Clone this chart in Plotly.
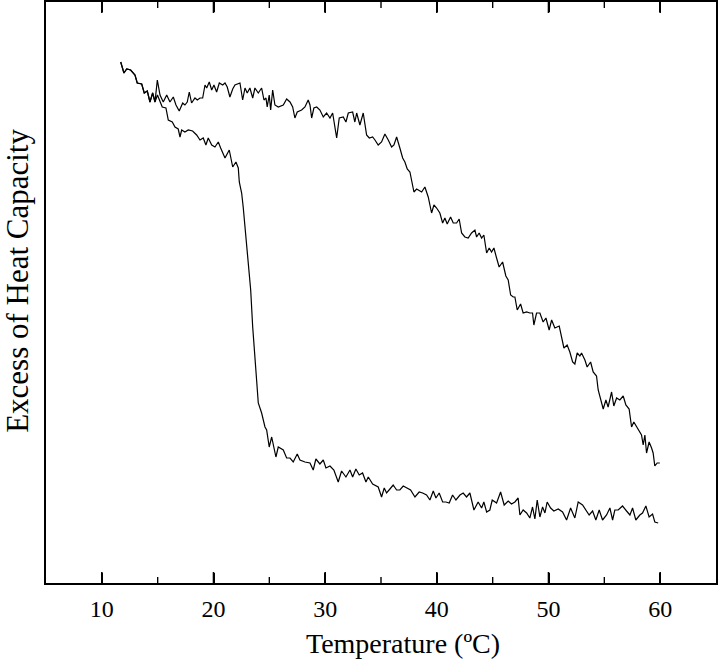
import plotly.graph_objects as go

# Shared start of both scans (°C, arbitrary heat-capacity units)
start_T = [11.69, 11.98, 12.23, 12.58, 12.97, 13.17, 13.57, 13.80, 14.07, 14.31, 14.55, 14.76]
start_cp = [521, 510, 514, 513, 508, 500, 499, 490, 492, 481, 490, 481]

# Curve with the sharp transition near 23 °C
sharp_T = [14.98, 15.41, 15.74, 15.95, 16.31, 16.55, 16.84, 17.00, 17.15, 17.44, 17.74, 18.13,
           18.49, 18.79, 19.08, 19.32, 19.53, 19.84, 20.13, 20.43, 20.64, 21.03, 21.41, 21.72,
           22.01, 22.22, 22.31, 22.52, 22.66, 22.82, 22.97, 23.11, 23.33, 23.51, 23.71, 23.86,
           24.01, 24.31, 24.61, 24.76, 24.99, 25.21, 25.59, 25.80, 26.25, 26.55, 26.85, 27.14,
           27.50, 27.74, 28.19, 28.64, 28.93, 29.17, 29.53, 29.83, 30.07, 30.43, 30.78, 31.17,
           31.47, 31.86, 32.22, 32.46, 32.75, 33.05, 33.35, 33.65, 33.86, 34.25, 34.75, 35.05,
           35.29, 35.50, 35.80, 36.09, 36.40, 36.69, 36.99, 37.29, 37.65, 38.04, 38.42, 38.73,
           39.08, 39.38, 39.68, 39.92, 40.21, 40.52, 40.81, 41.11, 41.41, 41.71, 42.07, 42.36,
           42.66, 42.96, 43.32, 43.70, 44.01, 44.21, 44.46, 44.75, 44.96, 45.35, 45.71, 46.03,
           46.39, 46.69, 46.99, 47.28, 47.44, 47.73, 48.04, 48.33, 48.57, 48.78, 48.99, 49.23,
           49.47, 49.68, 49.88, 50.19, 50.48, 50.87, 51.26, 51.62, 51.98, 52.36, 52.66, 53.05,
           53.35, 53.64, 53.95, 54.24, 54.54, 54.84, 55.20, 55.50, 55.74, 55.94, 56.24, 56.63,
           56.99, 57.29, 57.53, 57.82, 58.18, 58.42, 58.72, 59.01, 59.32, 59.52, 59.82]
sharp_cp = [488, 476, 475, 463, 461, 456, 454, 446, 453, 451, 453, 452,
            448, 443, 445, 438, 445, 438, 436, 441, 435, 425, 433, 416,
            421, 415, 401, 390, 376, 356, 343, 323, 293, 256, 220, 203,
            180, 170, 156, 153, 136, 146, 126, 136, 133, 125, 125, 121,
            129, 123, 121, 120, 113, 124, 119, 123, 115, 117, 113, 101,
            112, 106, 113, 106, 114, 108, 110, 101, 106, 99, 96, 86,
            95, 90, 94, 98, 93, 93, 97, 95, 93, 86, 91, 90,
            88, 83, 92, 85, 90, 81, 81, 80, 88, 83, 88, 90,
            86, 90, 73, 81, 75, 81, 71, 73, 83, 80, 91, 78,
            82, 79, 81, 85, 68, 73, 70, 65, 76, 64, 83, 66,
            76, 70, 81, 75, 72, 74, 71, 63, 75, 65, 81, 78,
            73, 68, 72, 63, 73, 63, 68, 75, 63, 73, 73, 77,
            72, 68, 75, 63, 68, 70, 77, 66, 69, 61, 60]

# Curve with the broad transition
broad_T = [14.97, 15.21, 15.50, 15.81, 16.10, 16.40, 16.64, 16.93, 17.24, 17.44, 17.65, 17.83,
           18.04, 18.34, 18.55, 18.79, 19.03, 19.24, 19.39, 19.62, 19.84, 20.04, 20.28, 20.52,
           20.82, 21.03, 21.23, 21.47, 21.72, 21.92, 22.37, 22.61, 22.82, 23.02, 23.26, 23.51,
           23.71, 24.01, 24.31, 24.52, 24.70, 24.81, 24.99, 25.12, 25.30, 25.50, 25.80, 26.25,
           26.55, 26.85, 27.09, 27.29, 27.50, 27.89, 28.19, 28.48, 28.64, 28.79, 28.99, 29.24,
           29.53, 29.83, 30.13, 30.43, 30.67, 31.03, 31.26, 31.62, 31.86, 32.07, 32.46, 32.66,
           32.82, 33.11, 33.41, 33.71, 33.95, 34.25, 34.46, 34.75, 35.05, 35.35, 35.65, 35.95,
           36.16, 36.40, 36.69, 36.94, 37.14, 37.35, 37.59, 37.74, 37.95, 38.19, 38.64, 38.93,
           39.23, 39.53, 39.74, 39.98, 40.27, 40.52, 40.72, 40.93, 41.23, 41.47, 41.77, 42.00,
           42.22, 42.51, 42.81, 43.11, 43.41, 43.56, 43.79, 44.01, 44.21, 44.46, 44.69, 44.90,
           45.11, 45.35, 45.58, 45.89, 46.18, 46.39, 46.61, 46.84, 46.99, 47.20, 47.50, 47.73,
           48.04, 48.33, 48.57, 48.69, 48.93, 49.23, 49.52, 49.77, 50.06, 50.28, 50.57, 50.96,
           51.17, 51.38, 51.67, 51.91, 52.16, 52.36, 52.57, 52.81, 52.96, 53.26, 53.46, 53.77,
           54.00, 54.30, 54.45, 54.66, 54.90, 55.14, 55.34, 55.65, 55.85, 56.10, 56.39, 56.69,
           56.93, 57.22, 57.44, 57.64, 57.89, 58.12, 58.33, 58.48, 58.63, 58.78, 59.01, 59.23,
           59.37, 59.52, 59.73, 59.97]
broad_cp = [503, 488, 481, 488, 481, 486, 478, 472, 480, 478, 481, 491,
            480, 485, 483, 485, 485, 498, 495, 501, 493, 498, 491, 500,
            498, 500, 496, 486, 494, 498, 500, 483, 495, 490, 495, 485,
            495, 490, 495, 483, 485, 476, 488, 473, 493, 478, 476, 478,
            484, 481, 476, 465, 471, 473, 476, 483, 478, 465, 475, 476,
            473, 466, 470, 465, 470, 445, 465, 466, 461, 470, 471, 461,
            470, 458, 470, 448, 445, 446, 443, 438, 441, 449, 443, 436,
            438, 446, 435, 425, 421, 414, 411, 403, 391, 394, 391, 396,
            386, 370, 378, 375, 370, 360, 365, 359, 366, 360, 360, 364,
            350, 346, 345, 350, 353, 346, 350, 345, 348, 330, 335, 331,
            335, 325, 316, 321, 307, 303, 288, 286, 286, 273, 279, 270,
            271, 270, 270, 258, 270, 270, 261, 265, 253, 263, 255, 257,
            246, 235, 238, 231, 221, 219, 230, 227, 230, 223, 216, 221,
            211, 207, 193, 183, 174, 183, 176, 191, 177, 185, 183, 187,
            178, 174, 156, 161, 156, 151, 148, 138, 148, 130, 141, 135,
            130, 117, 120, 120]

x_title = "Temperature (ºC)"
y_title = "Excess of Heat Capacity"
major_ticks = [10, 20, 30, 40, 50, 60]
minor_ticks = [15, 25, 35, 45, 55]
y_lo, y_hi = 0, 581
serif = "Liberation Serif, Times New Roman, serif"

fig = go.Figure()
fig.add_trace(go.Scatter(x=start_T + sharp_T, y=start_cp + sharp_cp, mode="lines",
                         line=dict(color="black", width=1.2), showlegend=False))
fig.add_trace(go.Scatter(x=start_T + broad_T, y=start_cp + broad_cp, mode="lines",
                         line=dict(color="black", width=1.2), showlegend=False))

# inward tick marks on the bottom and top frame edges, built from the tick lists
for vals, length, width in ((major_ticks, 11, 1.6), (minor_ticks, 6, 1.4)):
    tx, ty = [], []
    for v in vals:
        tx += [v, v, None, v, v, None]
        ty += [y_lo, y_lo + length, None, y_hi, y_hi - length, None]
    fig.add_trace(go.Scatter(x=tx, y=ty, mode="lines", line=dict(color="black", width=width),
                             hoverinfo="skip", showlegend=False, cliponaxis=False))

fig.update_layout(
    width=720, height=662,
    margin=dict(l=46, r=4, t=2, b=79),
    paper_bgcolor="white", plot_bgcolor="white",
    font=dict(family=serif, color="black"),
    xaxis=dict(
        range=[5, 65], tickmode="array", tickvals=major_ticks,
        ticks="inside", ticklen=10, tickwidth=1.5, tickcolor="black",
        showline=True, linecolor="black", linewidth=1.5, mirror="ticks",
        showgrid=False, zeroline=False, automargin=False,
        tickfont=dict(family=serif, size=24, color="black"),
        ticklabelstandoff=3,
    ),
    yaxis=dict(
        range=[y_lo, y_hi], showticklabels=False, ticks="",
        showline=True, linecolor="black", linewidth=1.5, mirror=True,
        showgrid=False, zeroline=False, automargin=False,
    ),
    annotations=[
        dict(text=x_title, xref="paper", yref="paper", x=0.533, y=-0.1033,
             xanchor="center", yanchor="middle", showarrow=False,
             font=dict(family=serif, size=28, color="black")),
        dict(text=y_title, xref="paper", yref="paper", x=-0.0418, y=0.52,
             xanchor="center", yanchor="middle", showarrow=False, textangle=-90,
             font=dict(family=serif, size=31, color="black")),
    ],
)

fig.write_html("out.html", config={"displayModeBar": False},
               post_script="document.body.style.margin='0px';")
